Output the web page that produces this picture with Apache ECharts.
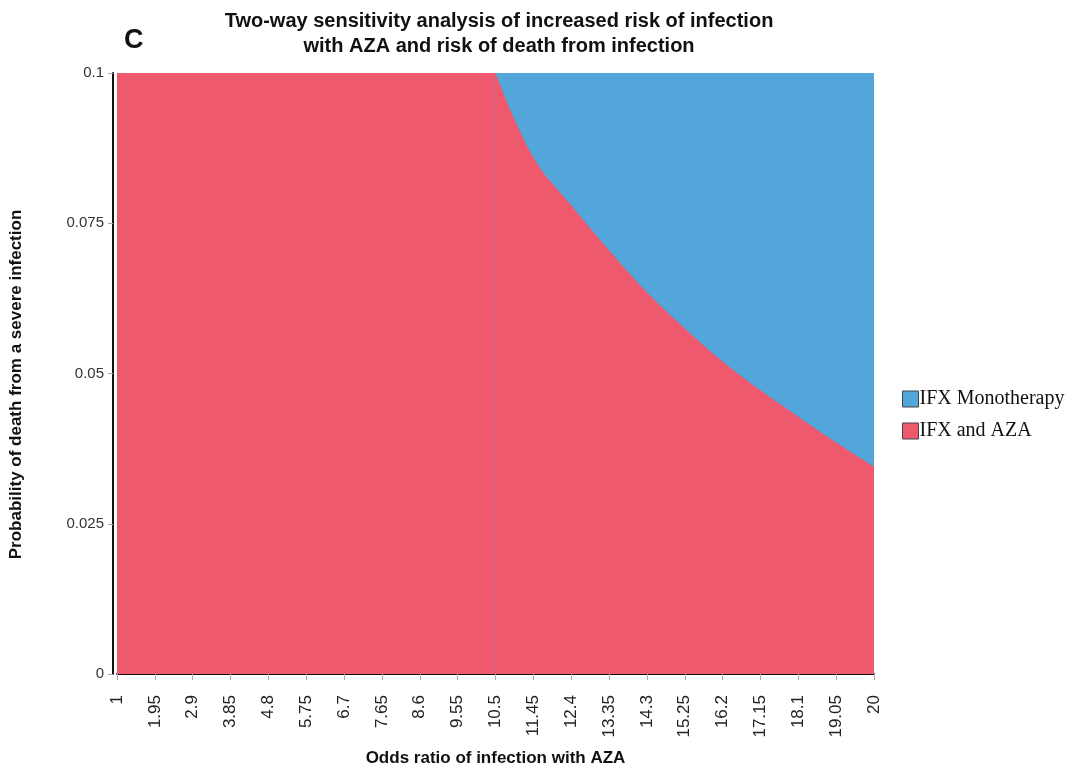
<!DOCTYPE html>
<html>
<head>
<meta charset="utf-8">
<script src="https://cdn.jsdelivr.net/npm/echarts@6/dist/echarts.min.js"></script>
<style>
  html, body { margin: 0; padding: 0; background: #fff; }
  #chart { width: 1072px; height: 769px; }
</style>
</head>
<body>
<div id="chart"></div>
<script>
// Odds ratio of infection with AZA (x categories)
const oddsRatios = ['1', '1.95', '2.9', '3.85', '4.8', '5.75', '6.7', '7.65', '8.6', '9.55',
  '10.5', '11.45', '12.4', '13.35', '14.3', '15.25', '16.2', '17.15', '18.1', '19.05', '20'];

// IFX and AZA preferred over the whole probability range up to this odds ratio
const comboFlat = [0.1, 0.1, 0.1, 0.1, 0.1, 0.1, 0.1, 0.1, 0.1, 0.1,
  0.1, null, null, null, null, null, null, null, null, null, null];

// Beyond it, the threshold probability of death below which IFX and AZA stays preferred
const comboThreshold = [null, null, null, null, null, null, null, null, null, null,
  0.1, 0.086, 0.078, 0.0705, 0.0635, 0.0575, 0.052, 0.0472, 0.0428, 0.0385, 0.0345];

// Full range of the probability axis (monotherapy fills the rest)
const fullRange = [0.1, 0.1, 0.1, 0.1, 0.1, 0.1, 0.1, 0.1, 0.1, 0.1,
  0.1, 0.1, 0.1, 0.1, 0.1, 0.1, 0.1, 0.1, 0.1, 0.1, 0.1];

const yTicks = { min: 0, max: 0.1, interval: 0.025 };

const BLUE = '#52a6da';
const RED = '#ef596d';
const SANS = 'Liberation Sans, Arial, sans-serif';

const chart = echarts.init(document.getElementById('chart'), null, { renderer: 'canvas' });

const areaSeries = (name, data, color, smooth, z) => ({
  name, type: 'line', data, symbol: 'none', smooth,
  connectNulls: false,
  lineStyle: { width: 0 },
  itemStyle: { color },
  areaStyle: { color, opacity: 1 },
  z
});

chart.setOption({
  backgroundColor: '#fff',
  animation: false,
  title: [
    {
      text: 'Two-way sensitivity analysis of increased risk of infection\nwith AZA and risk of death from infection',
      left: 494, top: 4, textAlign: 'center',
      textStyle: { fontFamily: SANS, fontSize: 20, fontWeight: 'bold', color: '#111', lineHeight: 25, align: 'center' }
    },
    {
      text: 'C', left: 119, top: 22,
      textStyle: { fontFamily: SANS, fontSize: 27, fontWeight: 'bold', color: '#111' }
    }
  ],
  legend: {
    orient: 'vertical',
    left: 897, top: 384,
    itemWidth: 16, itemHeight: 16, itemGap: 12,
    icon: 'rect',
    textStyle: { fontFamily: 'Liberation Serif, Times New Roman, serif', fontSize: 20, color: '#111', padding: [0, 0, 0, -4] },
    data: [
      { name: 'IFX Monotherapy', itemStyle: { color: BLUE, borderColor: '#444', borderWidth: 1 } },
      { name: 'IFX and AZA', itemStyle: { color: RED, borderColor: '#444', borderWidth: 1 } }
    ]
  },
  grid: { left: 117, right: 198, top: 73, bottom: 95, containLabel: false, outerBoundsMode: 'none' },
  xAxis: {
    type: 'category',
    data: oddsRatios,
    boundaryGap: false,
    offset: 7,
    name: 'Odds ratio of infection with AZA',
    nameLocation: 'middle',
    nameGap: 69,
    nameTextStyle: { fontFamily: SANS, fontSize: 17, fontWeight: 'bold', color: '#111' },
    axisLine: { lineStyle: { color: '#111', width: 2 } },
    axisTick: { show: true, interval: 0, length: 6, lineStyle: { color: '#aaa' } },
    axisLabel: {
      interval: 0, rotate: 90, margin: 14,
      fontFamily: SANS, fontSize: 17, color: '#222'
    },
    splitLine: { show: false }
  },
  yAxis: {
    type: 'value',
    min: yTicks.min, max: yTicks.max, interval: yTicks.interval,
    offset: 4,
    name: 'Probability of death from a severe infection',
    nameLocation: 'middle',
    nameGap: 88,
    nameTextStyle: { fontFamily: SANS, fontSize: 17, fontWeight: 'bold', color: '#111', padding: [0, 22, 0, 0] },
    axisLine: { show: true, lineStyle: { color: '#111', width: 2 } },
    axisTick: { show: true, length: 5, lineStyle: { color: '#aaa' } },
    axisLabel: { margin: 9, fontFamily: SANS, fontSize: 15, color: '#333' },
    splitLine: { show: false }
  },
  series: [
    areaSeries('IFX Monotherapy', fullRange, BLUE, false, 1),
    areaSeries('IFX and AZA', comboFlat, RED, false, 2),
    areaSeries('IFX and AZA', comboThreshold, RED, 0.4, 2)
  ]
});
</script>
</body>
</html>
